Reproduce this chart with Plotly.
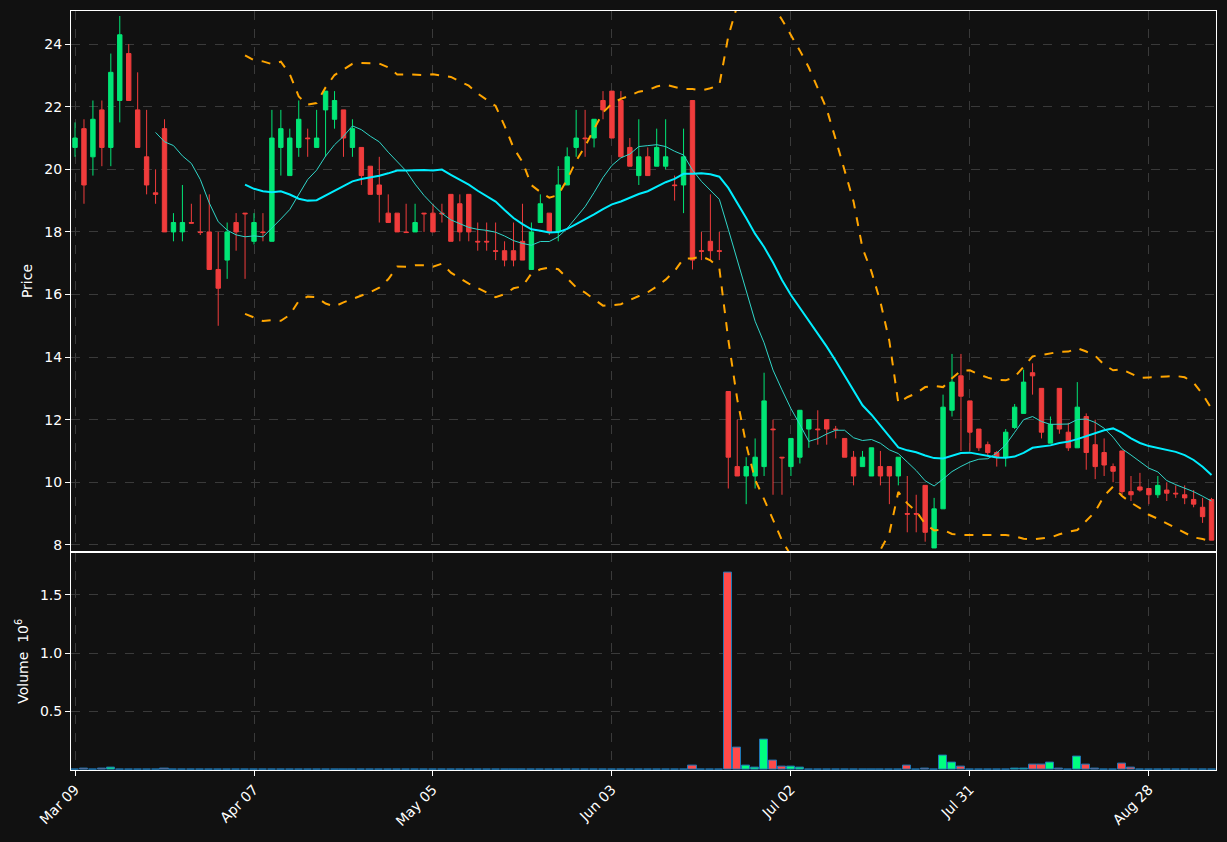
import numpy as np
import pandas as pd
import plotly.graph_objects as go
from plotly.subplots import make_subplots

opens = [20.7,21.3,20.4,21.9,20.7,22.2,23.7,21.9,20.4,19.25,21.3,18.0,18.0,18.3,18.0,18.0,16.8,17.1,18.3,18.6,
         17.7,18.0,17.7,20.7,19.8,20.7,21.0,20.7,21.9,21.6,21.9,20.7,20.7,20.1,19.5,18.6,18.6,18.0,18.0,18.6,
         18.6,18.6,19.2,18.9,19.2,17.7,17.7,17.4,17.4,17.4,17.7,16.8,18.3,18.6,18.0,19.5,20.7,21.0,21.0,22.2,
         22.5,22.2,20.7,19.8,20.4,20.1,20.1,19.5,19.5,22.2,17.4,17.7,17.4,12.9,10.5,10.2,10.2,10.5,11.7,10.8,
         10.5,10.8,11.7,11.7,12.0,11.7,11.4,10.8,10.5,10.2,10.5,10.5,10.2,9.0,9.0,9.9,7.9,9.15,12.3,13.4,
         12.6,11.7,11.2,10.95,10.8,11.75,12.2,13.5,13.0,11.25,13.0,11.6,11.1,12.1,11.2,10.95,10.5,11.0,9.7,9.85,
         9.8,9.6,9.75,9.65,9.6,9.45,9.2,9.45]
closes = [21.0,19.5,21.6,20.7,23.1,24.3,22.2,20.7,19.5,19.2,18.0,18.3,18.3,18.28,17.98,16.8,16.2,18.0,18.0,18.58,
          18.3,17.98,21.0,21.3,21.0,21.6,20.98,21.0,22.5,22.2,21.0,21.3,19.8,19.2,19.2,18.3,18.0,17.98,18.3,18.58,
          18.0,18.58,17.7,18.0,18.0,17.68,17.68,17.38,17.1,17.1,17.1,18.0,18.9,18.0,19.5,20.4,21.0,20.98,21.6,21.9,
          21.0,20.4,20.1,20.4,19.8,20.7,20.4,19.48,20.4,17.1,17.38,17.4,17.38,10.8,10.2,10.5,10.8,12.6,11.68,10.78,
          11.4,12.3,12.0,11.68,11.7,11.68,10.8,10.2,10.8,11.1,10.2,10.2,10.8,8.98,8.98,8.4,9.15,12.4,13.2,12.75,
          11.6,11.1,10.95,10.8,11.6,12.4,13.2,13.4,11.6,11.85,11.7,11.1,12.4,10.95,10.5,10.55,10.35,9.7,9.6,9.75,
          9.6,9.9,9.65,9.63,9.5,9.3,8.9,8.15]
highs = [21.5,21.6,22.2,22.2,23.7,24.9,24.0,23.1,21.9,20.0,21.6,18.6,19.5,18.9,19.2,19.2,18.0,18.3,18.6,18.6,
         18.6,18.6,21.9,21.9,21.3,22.2,21.3,21.9,22.5,22.5,21.9,21.6,20.7,20.1,20.4,19.2,18.6,18.9,18.9,18.6,
         18.9,18.9,19.2,19.2,19.2,18.3,18.3,18.3,17.7,18.3,18.9,18.3,19.2,18.6,20.1,20.7,21.9,21.9,21.6,22.5,
         22.5,22.5,21.0,21.6,20.7,21.3,21.6,19.8,21.3,22.2,18.0,19.2,18.0,12.9,12.0,10.8,11.4,13.5,12.0,10.8,
         11.4,12.3,12.0,12.3,12.0,11.8,11.4,11.0,11.0,11.1,11.0,10.5,10.8,10.2,9.6,9.9,9.5,12.8,14.1,14.1,
         12.6,11.7,11.3,11.0,11.7,12.5,13.6,13.8,13.0,12.1,13.0,11.9,13.2,12.2,12.0,11.4,10.6,11.0,10.2,10.3,
         9.8,10.2,10.0,9.9,9.9,9.75,9.5,9.5]
lows = [20.4,18.9,19.8,20.1,20.1,21.5,22.2,20.7,19.2,18.9,18.0,17.7,17.7,18.3,17.9,16.8,15.0,16.5,17.4,16.5,
        17.6,17.7,17.7,19.8,19.8,20.4,20.4,20.7,20.4,21.3,20.4,20.4,19.5,19.2,18.3,18.3,18.0,18.0,18.0,18.0,
        18.0,18.3,17.7,17.7,17.7,17.4,17.4,17.1,16.9,16.9,17.1,16.8,18.3,17.9,17.7,19.5,20.4,20.4,20.7,21.6,
        21.0,20.4,20.1,19.5,19.8,20.1,20.0,19.0,18.6,16.8,17.1,17.1,17.1,9.8,10.2,9.3,9.8,10.2,9.6,9.6,
        10.2,10.6,11.1,11.2,11.2,11.4,10.8,9.9,10.5,10.2,9.9,9.3,9.9,8.4,8.4,8.1,7.9,9.15,12.1,11.0,
        11.0,11.0,10.8,10.5,10.5,11.7,12.2,12.8,11.4,11.25,11.55,11.0,11.1,10.4,10.1,10.2,10.0,9.6,9.4,9.7,
        9.3,9.5,9.4,9.5,9.3,9.2,8.7,8.15]
volumes_m = [0.004,0.01,0.003,0.01,0.02,0.003,0.003,0.002,0.002,0.002,0.015,0.002,0.002,0.002,0.002,0.003,0.002,0.002,0.002,0.002,
             0.002,0.002,0.003,0.002,0.002,0.002,0.002,0.002,0.002,0.002,0.002,0.002,0.002,0.002,0.002,0.002,0.002,0.002,0.002,0.002,
             0.002,0.002,0.002,0.002,0.002,0.002,0.002,0.002,0.002,0.003,0.002,0.002,0.002,0.002,0.003,0.002,0.002,0.002,0.002,0.002,
             0.002,0.002,0.002,0.002,0.002,0.002,0.002,0.002,0.003,0.04,0.002,0.002,0.002,1.69,0.19,0.037,0.02,0.26,0.083,0.03,
             0.03,0.02,0.005,0.002,0.003,0.003,0.003,0.003,0.003,0.002,0.002,0.003,0.002,0.037,0.002,0.01,0.002,0.12,0.063,0.03,
             0.005,0.002,0.004,0.002,0.002,0.012,0.012,0.046,0.046,0.063,0.012,0.005,0.114,0.046,0.012,0.004,0.002,0.054,0.02,0.004,
             0.002,0.002,0.002,0.002,0.004,0.002,0.002,0.004]
tick_pos = [0, 20, 40, 60, 80, 100, 120]
tick_text = ["Mar 09", "Apr 07", "May 05", "Jun 03", "Jul 02", "Jul 31", "Aug 28"]

x = list(range(len(opens)))
c = pd.Series(closes)
ma10 = c.rolling(10).mean()
ma20 = c.rolling(20).mean()
sd20 = c.rolling(20).std(ddof=0)
upper = ma20 + 2 * sd20
lower = ma20 - 2 * sd20

UP = "#00e676"; DN = "#f03c3c"
fig = make_subplots(rows=2, cols=1, shared_xaxes=True, vertical_spacing=0.002,
                    row_heights=[0.713, 0.287])
fig.add_trace(go.Candlestick(x=x, open=opens, high=highs, low=lows, close=closes,
                             increasing=dict(line=dict(color=UP, width=1), fillcolor=UP),
                             decreasing=dict(line=dict(color=DN, width=1), fillcolor=DN),
                             whiskerwidth=0, showlegend=False), row=1, col=1)
fig.add_trace(go.Scatter(x=x, y=ma10, mode="lines", line=dict(color="#30d5c8", width=1), showlegend=False), row=1, col=1)
fig.add_trace(go.Scatter(x=x, y=ma20, mode="lines", line=dict(color="#00eeff", width=2), showlegend=False), row=1, col=1)
for band in (upper, lower):
    fig.add_trace(go.Scatter(x=x, y=band, mode="lines", line=dict(color="#ffa500", width=2, dash="dash"), showlegend=False), row=1, col=1)
vcol = ["#00ff80" if cl >= op else "#ff4a4a" for op, cl in zip(opens, closes)]
fig.add_trace(go.Bar(x=x, y=volumes_m, marker=dict(color=vcol, line=dict(color="#1f77b4", width=1)),
                     width=0.9, showlegend=False), row=2, col=1)

ax = dict(showline=True, linecolor="white", linewidth=1, mirror=True, gridcolor="#3a3a3a", griddash="dash",
          zeroline=False, tickfont=dict(color="white", size=14), ticks="outside", tickcolor="white")
fig.update_xaxes(**ax, range=[-0.45, 127.5], tickvals=tick_pos, ticktext=tick_text, rangeslider_visible=False)
fig.update_xaxes(tickangle=-45, row=2, col=1)
fig.update_xaxes(showticklabels=False, row=1, col=1)
fig.update_yaxes(**ax)
fig.update_yaxes(range=[7.8, 25.06], tickvals=[8,10,12,14,16,18,20,22,24], row=1, col=1,
                 title=dict(text="Price", font=dict(color="white", size=14), standoff=8))
fig.update_yaxes(range=[0, 1.86], tickvals=[0.5,1.0,1.5], ticktext=["0.5","1.0","1.5"], row=2, col=1,
                 title=dict(text="Volume  10<sup>6</sup>", font=dict(color="white", size=14), standoff=8))
fig.update_layout(width=1227, height=842, paper_bgcolor="#111111", plot_bgcolor="#111111",
                  margin=dict(l=71, r=11, t=11, b=72), font=dict(family="DejaVu Sans", color="white"),
                  bargap=0)
fig.write_html("out.html", config={"displayModeBar": False},
               post_script="document.body.style.margin='0';document.body.style.background='#111111';")
